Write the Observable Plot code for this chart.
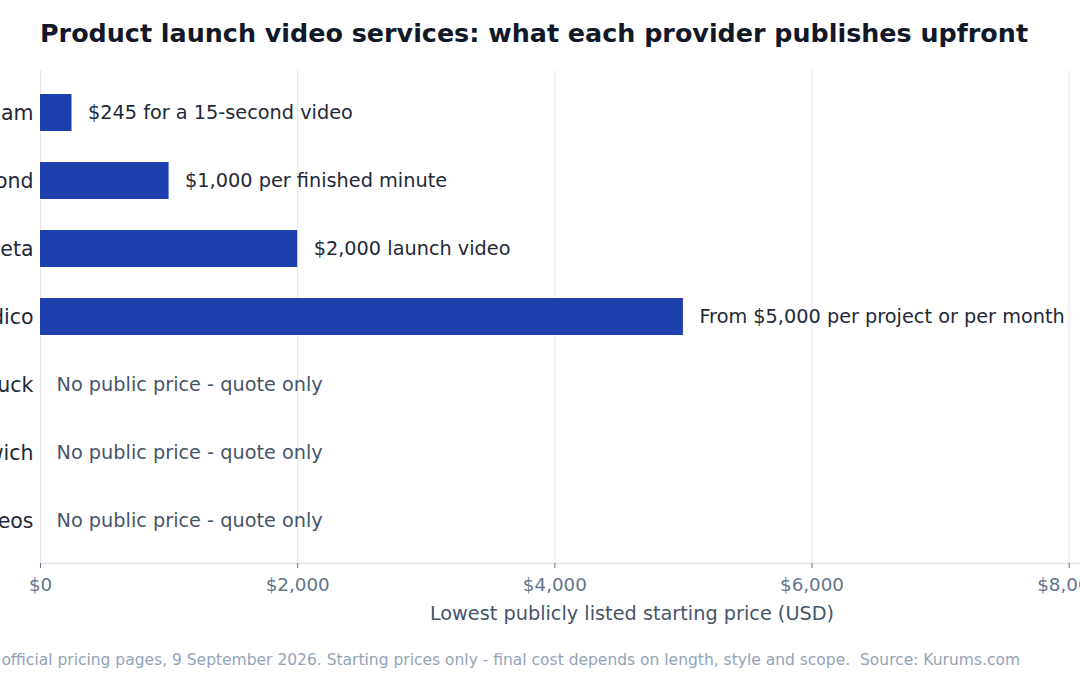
<!DOCTYPE html>
<html>
<head>
<meta charset="utf-8">
<script src="https://cdn.jsdelivr.net/npm/d3@7"></script>
<script src="https://cdn.jsdelivr.net/npm/@observablehq/plot@0.6"></script>
<style>
  html, body { margin: 0; padding: 0; width: 1080px; height: 675px; overflow: hidden; background: #fff; font-family: "DejaVu Sans", sans-serif; }
  #title { position: absolute; left: 40px; top: 18px; font-size: 25.4px; font-weight: bold; color: #111827; white-space: nowrap; }
  #chart { position: absolute; left: -160px; top: 60px; }
  #chart svg { max-width: none !important; }
  #caption { position: absolute; right: 60px; top: 651px; font-size: 15.5px; color: #94a3b8; white-space: pre; }
</style>
</head>
<body>
<div id="title">Product launch video services: what each provider publishes upfront</div>
<div id="chart"></div>
<div id="caption">Prices from each provider's official pricing pages, 9 September 2026. Starting prices only - final cost depends on length, style and scope.  Source: Kurums.com</div>
<script>
const providers = ["Kurums Team", "Breadnbeyond", "Content Beta", "Vidico", "Demo Duck", "Sandwich", "Yum Yum Videos"];
const prices = [245, 1000, 2000, 5000, null, null, null];
const priceLabels = [
  "$245 for a 15-second video",
  "$1,000 per finished minute",
  "$2,000 launch video",
  "From $5,000 per project or per month",
  "No public price - quote only",
  "No public price - quote only",
  "No public price - quote only"
];
const xTicks = [0, 2000, 4000, 6000, 8000];

const rows = providers.map((name, i) => ({name, value: prices[i], label: priceLabels[i]}));
const priced = rows.filter(d => d.value != null);
const unpriced = rows.filter(d => d.value == null);

const fmt = d => "$" + d3.format(",")(d);

const plot = Plot.plot({
  width: 1403,
  height: 573,
  marginLeft: 200,
  marginRight: 20,
  marginTop: 10,
  marginBottom: 70,
  style: {fontFamily: "DejaVu Sans, sans-serif", background: "transparent"},
  x: {domain: [0, 9200]},
  y: {domain: providers, paddingInner: 0.45, paddingOuter: 0.33},
  marks: [
    Plot.gridX(xTicks, {stroke: "#e5e7eb", strokeOpacity: 1, strokeWidth: 1}),
    Plot.frame({anchor: "bottom", stroke: "#e5e7eb", strokeWidth: 1.5}),
    Plot.axisX({ticks: xTicks, tickFormat: fmt, tickSize: 5, tickPadding: 9, stroke: "#64748b", fill: "#64748b", fontSize: 18.3,
      label: "Lowest publicly listed starting price (USD)", labelAnchor: "center", labelArrow: "none", labelOffset: 56}),
    Plot.axisY({tickSize: 0, tickPadding: 7, fontSize: 20.5, fill: "#1f2937", label: null}),
    Plot.barX(priced, {x: "value", y: "name", fill: "#1e40af"}),
    Plot.text(priced, {x: "value", y: "name", text: "label", textAnchor: "start", dx: 16, fontSize: 19.3, fill: "#1f2937"}),
    Plot.text(unpriced, {x: () => 0, y: "name", text: "label", textAnchor: "start", dx: 16, fontSize: 19.3, fill: "#475569"})
  ]
});
plot.querySelectorAll("[aria-label='x-axis label'] text, g[aria-label='x-axis label']").forEach(el => { el.setAttribute("fill", "#475569"); el.setAttribute("font-size", "19.3"); });
document.getElementById("chart").appendChild(plot);
</script>
</body>
</html>
